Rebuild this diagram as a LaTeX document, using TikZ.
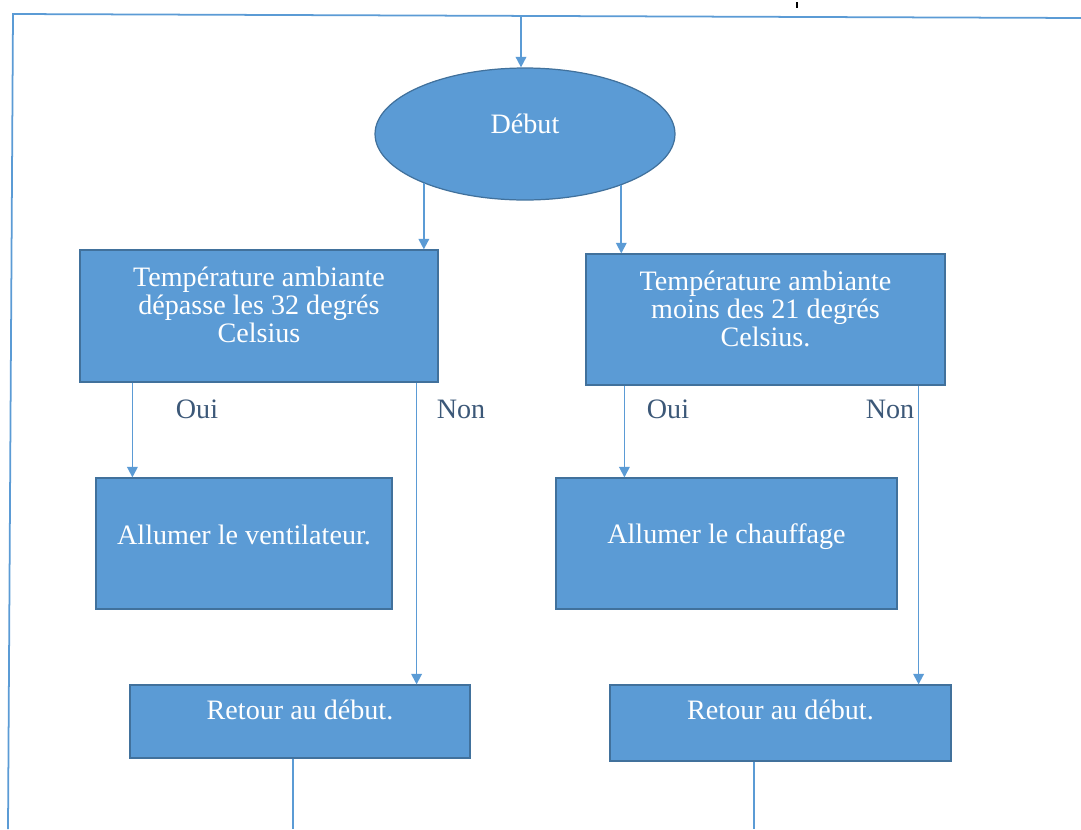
\documentclass[tikz,border=0pt]{standalone}
\usepackage{fontspec}
\setmainfont{Liberation Serif}
\usetikzlibrary{shapes.geometric,arrows.meta}
\definecolor{boxblue}{HTML}{5B9BD5}
\definecolor{edgeblue}{HTML}{41719C}
\definecolor{labelblue}{HTML}{3C5878}

\begin{document}
\begin{tikzpicture}[x=0.02cm, y=-0.02cm, >={Triangle[width=6pt,length=6pt]},
  box/.style={draw=edgeblue, fill=boxblue, rectangle, line width=0.7pt},
  txt/.style={text=white, align=center, font=\fontsize{16}{16}\selectfont},
  flow/.style={draw=boxblue, line width=1pt},
  lab/.style={text=labelblue, font=\fontsize{16}{16}\selectfont}]
\useasboundingbox (0,0) rectangle (1081,829);

\node[box, ellipse, minimum width=6cm, minimum height=2.64cm, label={[txt, yshift=0.2cm]center:Début}] (a) at (525,134) {};
\node[box, minimum width=7.16cm, minimum height=2.64cm, label={[txt, yshift=0.22cm]center:Température ambiante\\dépasse les 32 degrés\\Celsius}] (b) at (259,316) {};
\node[box, minimum width=7.18cm, minimum height=2.62cm, label={[txt, yshift=0.21cm]center:Température ambiante\\moins des 21 degrés\\Celsius.}] (c) at (765.5,319.5) {};
\node[box, minimum width=5.92cm, minimum height=2.62cm, label={[txt, yshift=0.17cm]center:Allumer le ventilateur.}] (d) at (244,543.5) {};
\node[box, minimum width=6.82cm, minimum height=2.62cm, label={[txt, yshift=0.13cm]center:Allumer le chauffage}] (e) at (726.5,543.5) {};
\node[box, minimum width=6.8cm, minimum height=1.46cm, label={[txt, yshift=0.23cm]center:Retour au début.}] (f) at (300,721.5) {};
\node[box, minimum width=6.82cm, minimum height=1.52cm, label={[txt, yshift=0.26cm]center:Retour au début.}] (g) at (780.5,723) {};

\node[lab] (oui1) at (197,409) {Oui};
\node[lab] (non1) at (461,409) {Non};
\node[lab] (oui2) at (668,409) {Oui};
\node[lab] (non2) at (890,409) {Non};

% frame back to the start
\coordinate (tl) at (13,14);
\coordinate (bl) at (8,829);
\coordinate (tr) at (1081,18);
\coordinate (entry) at (521,16);
\coordinate (out1) at (293,829);
\coordinate (out2) at (754,829);
\draw[flow] (bl) -- (tl) -- (tr);
\draw[flow, ->] (entry) -- (entry |- a.north);
\draw[black, line width=0.6pt] (797,2) -- (797,8);

\draw[flow, ->] (a.206) -- (a.206 |- b.north);
\draw[flow, ->] (a.332) -- (a.332 |- c.north);
\draw[flow, ->] ([xshift=1.06cm]b.south west) -- ([xshift=1.06cm]b.south west |- d.north);
\draw[flow, ->] ([xshift=-0.44cm]b.south east) -- ([xshift=-0.44cm]b.south east |- f.north);
\draw[flow, ->] ([xshift=0.78cm]c.south west) -- ([xshift=0.78cm]c.south west |- e.north);
\draw[flow, ->] ([xshift=-0.54cm]c.south east) -- ([xshift=-0.54cm]c.south east |- g.north);
\draw[flow] (f.south -| out1) -- (out1);
\draw[flow] (g.south -| out2) -- (out2);
\end{tikzpicture}
\end{document}
